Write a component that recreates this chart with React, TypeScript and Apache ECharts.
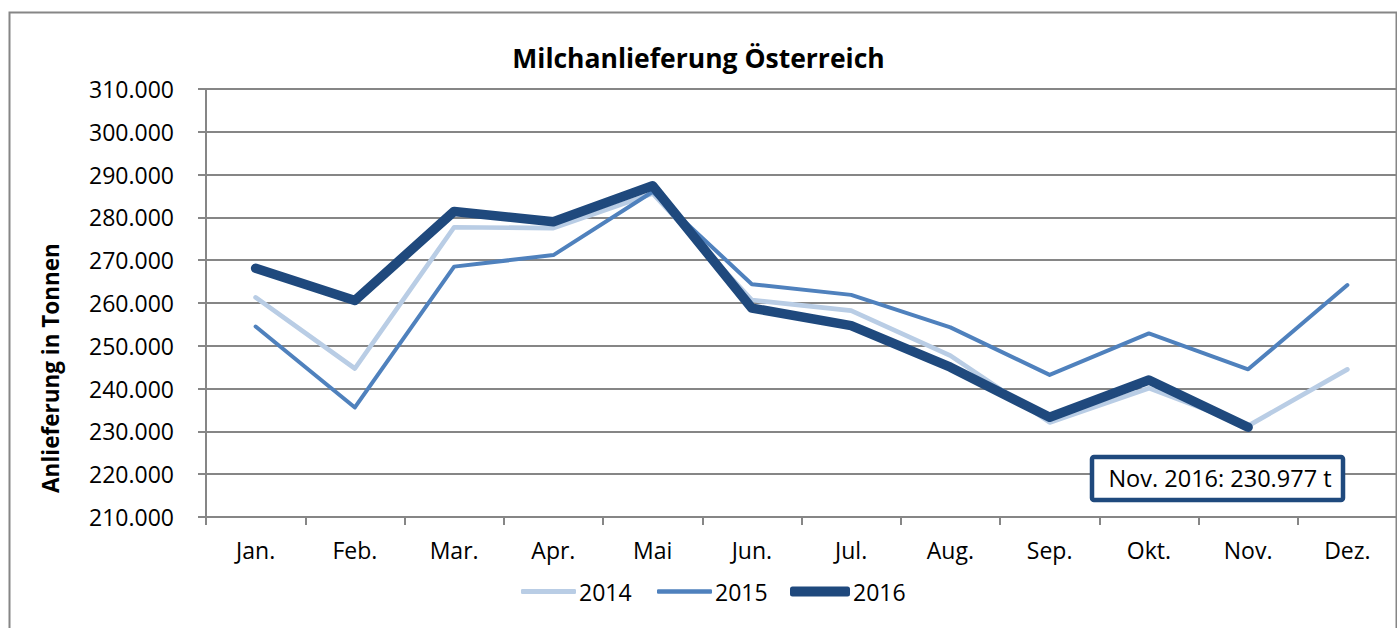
import React, { useEffect, useRef } from "react";
import * as echarts from "echarts";

const categories = ["Jan.", "Feb.", "Mar.", "Apr.", "Mai", "Jun.", "Jul.", "Aug.", "Sep.", "Okt.", "Nov.", "Dez."];
const data2014 = [261300, 244700, 277700, 277500, 285600, 260700, 258200, 247700, 232100, 240100, 231300, 244500];
const data2015 = [254500, 235600, 268500, 271200, 286000, 264400, 261900, 254300, 243200, 252900, 244500, 264200];
const data2016 = [268100, 260600, 281400, 279000, 287400, 258800, 254700, 245000, 233300, 242000, 230977];
const seriesNames = ["2014", "2015", "2016"];
const seriesColors = ["#B9CDE5", "#4F81BD", "#1F497D"];
const seriesWidths = [4.7, 4, 9.5];
const yMin = 210000;
const yMax = 310000;
const yStep = 10000;

const fmt = (v: number) => Math.round(v).toString().replace(/\B(?=(\d{3})+(?!\d))/g, ".");

const FONT = "Open Sans";

export default function App() {
  const ref = useRef<HTMLDivElement>(null);
  useEffect(() => {
    const chart = echarts.init(ref.current!, undefined, { renderer: "svg" });
    const lastIdx = data2016.length - 1;
    const allData = [data2014, data2015, data2016];
    const legendLefts = [516, 652, 785];
    const legendWidths = [55, 55, 60];
    const legendHeights = [5, 4.5, 10];
    chart.setOption({
      animation: false,
      backgroundColor: "#ffffff",
      title: {
        text: "Milchanlieferung Österreich",
        left: "center",
        top: 39,
        textStyle: { fontFamily: FONT, fontSize: 26.5, fontWeight: "bold", color: "#000" },
      },
      legend: seriesNames.map((n, i) => ({
        data: [{ name: n, icon: "roundRect" }],
        left: legendLefts[i],
        top: 575,
        itemWidth: legendWidths[i],
        itemHeight: legendHeights[i],
        itemStyle: { color: seriesColors[i] },
        textStyle: { fontFamily: FONT, fontSize: 23, color: "#000", padding: [0, 0, 0, -2] },
      })),
      grid: { left: 206, right: 0, top: 89, bottom: 111, containLabel: false },
      xAxis: {
        type: "category",
        data: categories,
        boundaryGap: true,
        axisLine: { lineStyle: { color: "#868686", width: 2 } },
        axisTick: { show: true, length: 8, inside: false, lineStyle: { color: "#868686", width: 2 } },
        axisLabel: { fontFamily: FONT, fontSize: 23, color: "#000", margin: 21 },
      },
      yAxis: {
        type: "value",
        min: yMin,
        max: yMax,
        interval: yStep,
        axisLine: { show: true, lineStyle: { color: "#868686", width: 2 } },
        axisTick: { show: true, length: 8, lineStyle: { color: "#868686", width: 2 } },
        axisLabel: { fontFamily: FONT, fontSize: 23, color: "#000", margin: 32, formatter: (v: number) => fmt(v) },
        splitLine: { lineStyle: { color: "#868686", width: 2 } },
      },
      series: seriesNames.map((n, i) => ({
        name: n,
        type: "line",
        data: allData[i],
        symbol: "none",
        lineStyle: { color: seriesColors[i], width: seriesWidths[i], cap: "round", join: "round" },
        itemStyle: { color: seriesColors[i] },
      })),
      graphic: [
        {
          type: "rect",
          silent: true,
          shape: { x: 9.5, y: 12.5, width: 1387, height: 640 },
          style: { fill: "none", stroke: "#868686", lineWidth: 2 },
          z: 100,
        },
        {
          type: "text",
          x: 50,
          y: 368,
          rotation: Math.PI / 2,
          style: {
            text: "Anlieferung in Tonnen",
            fontFamily: FONT,
            fontSize: 22.5,
            fontWeight: "bold",
            fill: "#000",
            align: "center",
            verticalAlign: "middle",
          },
          z: 100,
        },
        {
          type: "rect",
          z: 100,
          shape: { x: 1092, y: 457, width: 251, height: 43, r: 2 },
          style: { fill: "#fff", stroke: "#1F497D", lineWidth: 4.5 },
        },
        {
          type: "text",
          z: 101,
          x: 1220,
          y: 478,
          style: {
            text: `Nov. 2016: ${fmt(data2016[lastIdx])} t`,
            fontFamily: FONT,
            fontSize: 23.5,
            fill: "#000",
            align: "center",
            verticalAlign: "middle",
          },
        },
      ],
    });
    return () => chart.dispose();
  }, []);
  return <div ref={ref} style={{ position: "fixed", left: 0, top: 0, width: 1397, height: 628 }} />;
}
